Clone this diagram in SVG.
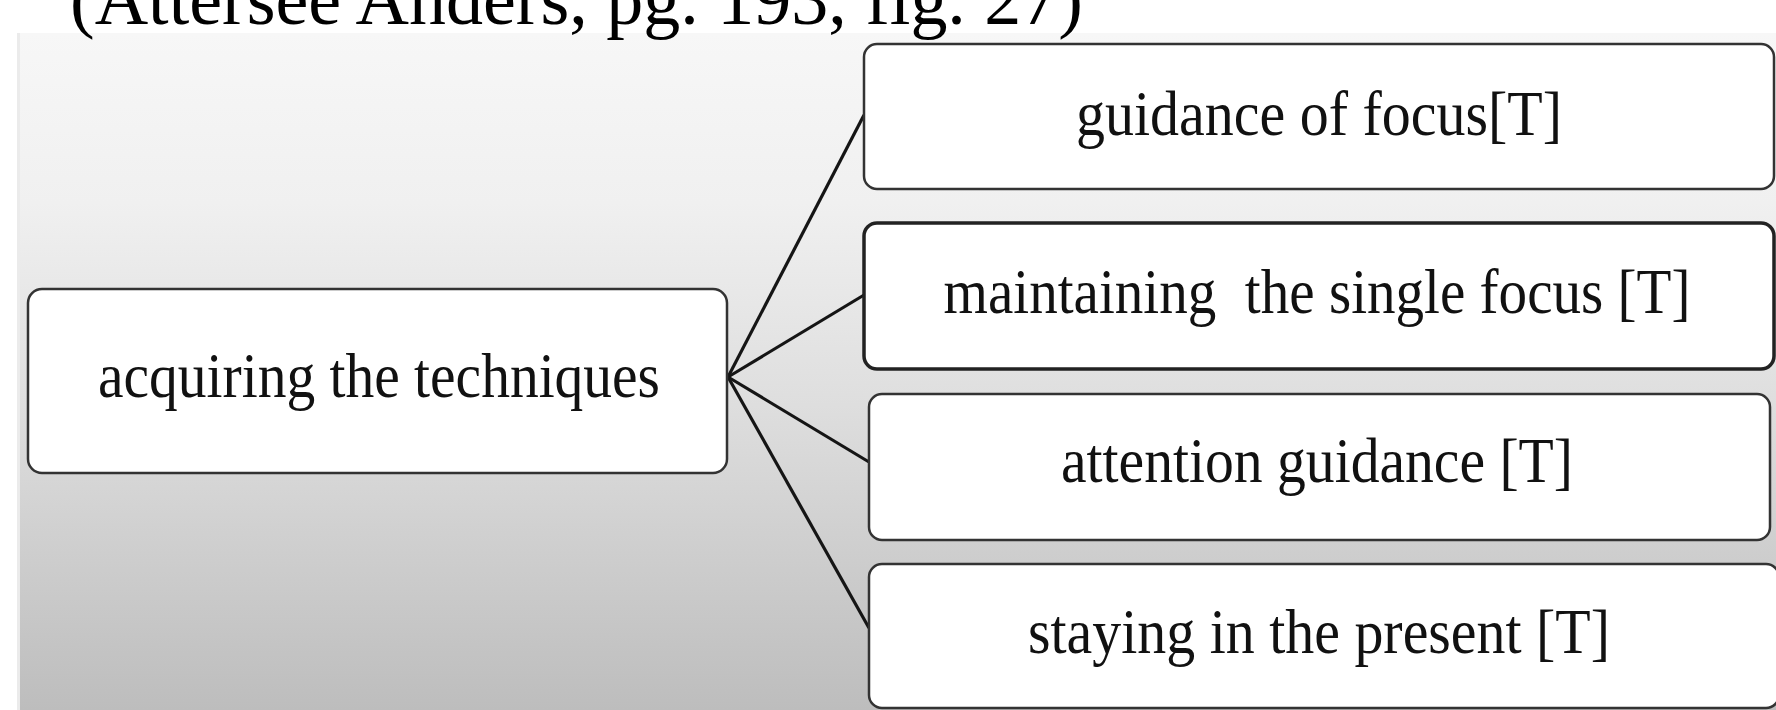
<svg xmlns="http://www.w3.org/2000/svg" width="1776" height="710" viewBox="0 0 1776 710">
  <defs>
    <linearGradient id="bg" x1="0" y1="0" x2="0" y2="1">
      <stop offset="0" stop-color="#f7f7f7"/>
      <stop offset="0.25" stop-color="#f0f0f0"/>
      <stop offset="0.55" stop-color="#dedede"/>
      <stop offset="0.78" stop-color="#cdcdcd"/>
      <stop offset="1" stop-color="#bdbdbd"/>
    </linearGradient>
    <style>
      .box { fill: #ffffff; stroke: #333333; stroke-width: 2.5; }
      .box2 { fill: #ffffff; stroke: #222222; stroke-width: 3.5; }
      .lbl { font-family: "Liberation Serif", "Times New Roman", serif; font-size: 63px; fill: #111111; text-anchor: middle; }
      .title { font-family: "Liberation Serif", "Times New Roman", serif; font-size: 74px; fill: #000000; }
      .conn { stroke: #151515; stroke-width: 3.2; fill: none; }
    </style>
  </defs>
  <rect x="0" y="0" width="1776" height="710" fill="#ffffff"/>
  <rect x="17" y="33" width="4" height="677" fill="#ebebeb"/>
  <rect x="20" y="33" width="1756" height="677" fill="url(#bg)"/>
  <text class="title" x="70" y="24" textLength="1013" lengthAdjust="spacingAndGlyphs">(Attersee Anders, pg. 193, fig. 27)</text>

  <g id="connectors">
    <line class="conn" x1="728" y1="377" x2="864" y2="115"/>
    <line class="conn" x1="728" y1="377" x2="864" y2="295"/>
    <line class="conn" x1="728" y1="377" x2="869" y2="462"/>
    <line class="conn" x1="728" y1="377" x2="869" y2="628"/>
  </g>

  <g id="node-root">
    <rect class="box" x="28" y="289" width="699" height="184" rx="14"/>
    <text class="lbl" x="379" y="397" textLength="562" lengthAdjust="spacingAndGlyphs">acquiring the techniques</text>
  </g>
  <g id="node-guidance-focus">
    <rect class="box" x="864" y="44" width="910" height="145" rx="13"/>
    <text class="lbl" x="1319" y="135" textLength="486" lengthAdjust="spacingAndGlyphs">guidance of focus[T]</text>
  </g>
  <g id="node-single-focus">
    <rect class="box2" x="864" y="223" width="910" height="146" rx="13"/>
    <text class="lbl" x="1317" y="313" textLength="747" lengthAdjust="spacingAndGlyphs" xml:space="preserve">maintaining  the single focus [T]</text>
  </g>
  <g id="node-attention">
    <rect class="box" x="869" y="394" width="901" height="146" rx="13"/>
    <text class="lbl" x="1317" y="482" textLength="512" lengthAdjust="spacingAndGlyphs">attention guidance [T]</text>
  </g>
  <g id="node-present">
    <rect class="box" x="869" y="564" width="910" height="144" rx="13"/>
    <text class="lbl" x="1319" y="653" textLength="582" lengthAdjust="spacingAndGlyphs">staying in the present [T]</text>
  </g>
</svg>
